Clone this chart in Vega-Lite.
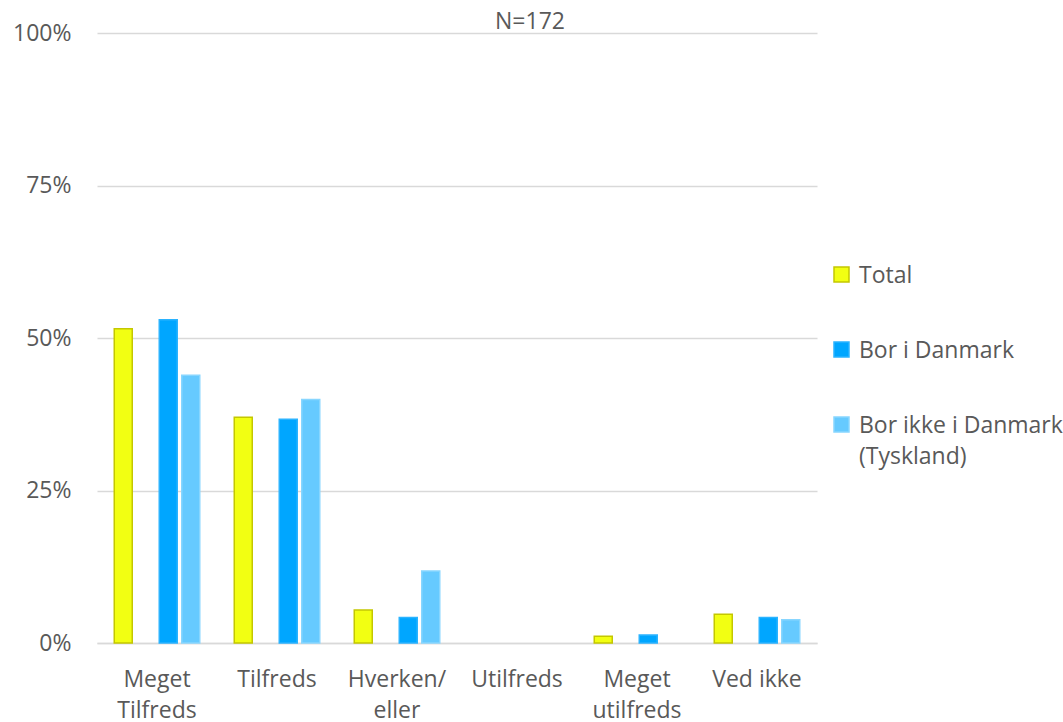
{
  "$schema": "https://vega.github.io/schema/vega-lite/v6.json",
  "width": 720,
  "height": 610,
  "autosize": {"type": "none"},
  "padding": {"left": 97, "top": 33, "right": 246, "bottom": 79},
  "background": "white",
  "title": {"text": "N=172", "anchor": "middle", "dx": 73, "offset": -12, "fontSize": 23, "font": "Open Sans", "fontWeight": "normal", "color": "#595959"},
  "data": {"values": [
    {"category": "Meget Tilfreds", "series": "Total", "value": 0.515},
    {"category": "Meget Tilfreds", "series": "Bor i Danmark", "value": 0.530},
    {"category": "Meget Tilfreds", "series": "Bor ikke i Danmark (Tyskland)", "value": 0.439},
    {"category": "Tilfreds", "series": "Total", "value": 0.370},
    {"category": "Tilfreds", "series": "Bor i Danmark", "value": 0.367},
    {"category": "Tilfreds", "series": "Bor ikke i Danmark (Tyskland)", "value": 0.399},
    {"category": "Hverken/eller", "series": "Total", "value": 0.054},
    {"category": "Hverken/eller", "series": "Bor i Danmark", "value": 0.042},
    {"category": "Hverken/eller", "series": "Bor ikke i Danmark (Tyskland)", "value": 0.118},
    {"category": "Utilfreds", "series": "Total", "value": 0},
    {"category": "Utilfreds", "series": "Bor i Danmark", "value": 0},
    {"category": "Utilfreds", "series": "Bor ikke i Danmark (Tyskland)", "value": 0},
    {"category": "Meget utilfreds", "series": "Total", "value": 0.011},
    {"category": "Meget utilfreds", "series": "Bor i Danmark", "value": 0.013},
    {"category": "Meget utilfreds", "series": "Bor ikke i Danmark (Tyskland)", "value": 0},
    {"category": "Ved ikke", "series": "Total", "value": 0.047},
    {"category": "Ved ikke", "series": "Bor i Danmark", "value": 0.042},
    {"category": "Ved ikke", "series": "Bor ikke i Danmark (Tyskland)", "value": 0.038}
  ]},
  "mark": {"type": "bar", "strokeWidth": 1.5},
  "encoding": {
    "x": {
      "field": "category", "type": "nominal",
      "sort": ["Meget Tilfreds", "Tilfreds", "Hverken/eller", "Utilfreds", "Meget utilfreds", "Ved ikke"],
      "scale": {"paddingInner": 0.25, "paddingOuter": 0.125},
      "axis": {
        "title": null, "labelAngle": 0, "ticks": false, "tickSize": 0,
        "domainColor": "#D9D9D9", "domainWidth": 1.5,
        "labelFont": "Open Sans", "labelFontSize": 23, "labelColor": "#595959",
        "labelPadding": 25, "labelLineHeight": 31, "labelLimit": 300,
        "labelExpr": "datum.value == 'Meget Tilfreds' ? ['Meget', 'Tilfreds'] : datum.value == 'Hverken/eller' ? ['Hverken/', 'eller'] : datum.value == 'Meget utilfreds' ? ['Meget', 'utilfreds'] : datum.value"
      }
    },
    "xOffset": {
      "field": "series", "type": "nominal",
      "scale": {"domain": ["Total", "_gap", "Bor i Danmark", "Bor ikke i Danmark (Tyskland)"], "paddingInner": 0.2, "paddingOuter": 0.1}
    },
    "y": {
      "field": "value", "type": "quantitative",
      "scale": {"domain": [0, 1]},
      "axis": {
        "title": null, "values": [0, 0.25, 0.5, 0.75, 1], "format": ".0%",
        "ticks": false, "tickSize": 0, "domain": false,
        "grid": true, "gridColor": "#D9D9D9", "gridWidth": 1.5,
        "labelFont": "Open Sans", "labelFontSize": 23, "labelColor": "#595959",
        "labelPadding": 26
      }
    },
    "color": {
      "field": "series", "type": "nominal",
      "scale": {"domain": ["Total", "Bor i Danmark", "Bor ikke i Danmark (Tyskland)"], "range": ["#F2FF12", "#00A6FF", "#66CAFF"]},
      "legend": {
        "title": null, "orient": "none", "legendX": 733, "legendY": 230,
        "symbolType": "square", "symbolSize": 225, "symbolStrokeWidth": 1.5,
        "labelFont": "Open Sans", "labelFontSize": 23, "labelColor": "#595959",
        "labelOffset": 6, "rowPadding": 50, "labelLimit": 400,
        "labelBaseline": "alphabetic",
        "labelExpr": "datum.label == 'Bor ikke i Danmark (Tyskland)' ? ['Bor ikke i Danmark', '(Tyskland)'] : datum.label",
        "encode": {"labels": {"update": {"dy": {"value": 8}, "lineHeight": {"value": 31}}}}
      }
    },
    "stroke": {
      "field": "series", "type": "nominal",
      "scale": {"domain": ["Total", "Bor i Danmark", "Bor ikke i Danmark (Tyskland)"], "range": ["#C4C700", "#2AB3FF", "#88D6FF"]}
    },
    "strokeOpacity": {"condition": {"test": "datum.value > 0", "value": 1}, "value": 0}
  },
  "config": {
    "view": {"stroke": null},
    "font": "Open Sans",
    "legend": {
      "orient": "none", "legendX": 733, "legendY": 230, "symbolType": "square", "symbolSize": 225,
      "labelFontSize": 23, "labelColor": "#595959", "rowPadding": 50, "labelOffset": 6
    }
  }
}
